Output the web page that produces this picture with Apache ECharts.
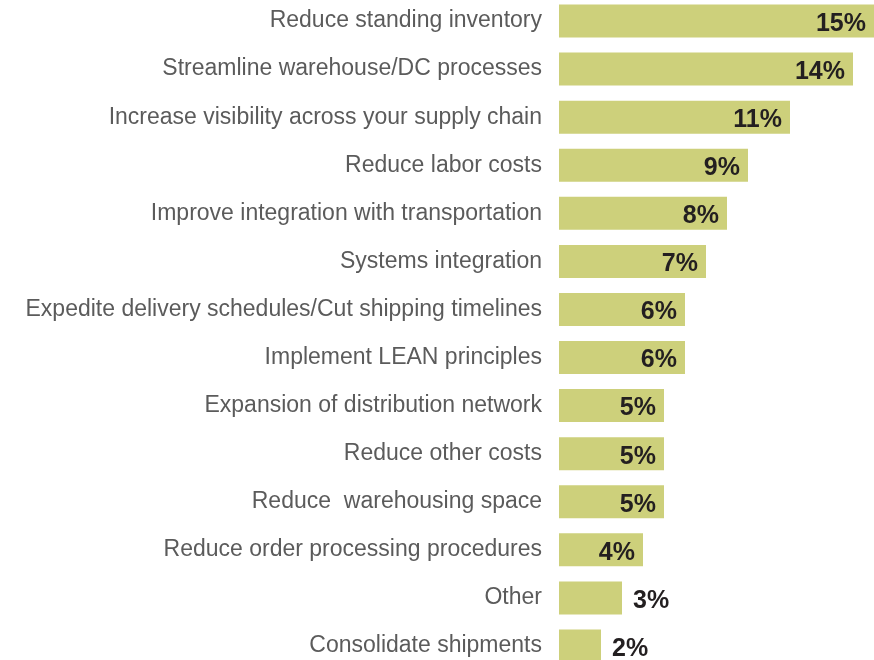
<!DOCTYPE html>
<html>
<head>
<meta charset="utf-8">
<script src="https://cdn.jsdelivr.net/npm/echarts@6/dist/echarts.min.js"></script>
<style>
  html, body { margin: 0; padding: 0; background: #ffffff; overflow: hidden; width: 874px; height: 660px; }
  /* plot area runs slightly past the page edges so the outer bars are clipped */
  #chart { position: absolute; left: 0; top: -3px; width: 874px; height: 673px; }
</style>
</head>
<body>
<div id="chart"></div>
<script>
// Priorities, listed top to bottom
const categories = [
  'Reduce standing inventory',
  'Streamline warehouse/DC processes',
  'Increase visibility across your supply chain',
  'Reduce labor costs',
  'Improve integration with transportation',
  'Systems integration',
  'Expedite delivery schedules/Cut shipping timelines',
  'Implement LEAN principles',
  'Expansion of distribution network',
  'Reduce other costs',
  'Reduce  warehousing space',
  'Reduce order processing procedures',
  'Other',
  'Consolidate shipments'
];
// Share of respondents, in percent
const values = [15, 14, 11, 9, 8, 7, 6, 6, 5, 5, 5, 4, 3, 2];

// Small bars carry their label outside the bar end
const OUTSIDE_BELOW = 4;

const chart = echarts.init(document.getElementById('chart'), null, { renderer: 'canvas' });

const data = values.map(function (v) {
  const outside = v < OUTSIDE_BELOW;
  return {
    value: v,
    label: {
      position: outside ? 'right' : 'insideRight',
      distance: outside ? 11 : 8
    }
  };
});

chart.setOption({
  animation: false,
  backgroundColor: '#ffffff',
  grid: { left: 559, right: 0, top: 0, bottom: 0, containLabel: false },
  xAxis: {
    type: 'value',
    min: 0,
    max: 15,
    show: false
  },
  yAxis: {
    type: 'category',
    inverse: true,
    data: categories,
    axisLine: { show: false },
    axisTick: { show: false },
    splitLine: { show: false },
    axisLabel: {
      margin: 17,
      color: '#5b5b5b',
      fontFamily: 'Liberation Sans, Arial, sans-serif',
      fontSize: 23,
      padding: [3, 0, 0, 0]
    }
  },
  series: [{
    type: 'bar',
    data: data,
    barWidth: 33,
    itemStyle: { color: '#cdd07b' },
    label: {
      show: true,
      formatter: '{c}%',
      color: '#231f20',
      fontFamily: 'Liberation Sans, Arial, sans-serif',
      fontWeight: 'bold',
      fontSize: 25,
      offset: [0, 3]
    }
  }]
});
</script>
</body>
</html>
